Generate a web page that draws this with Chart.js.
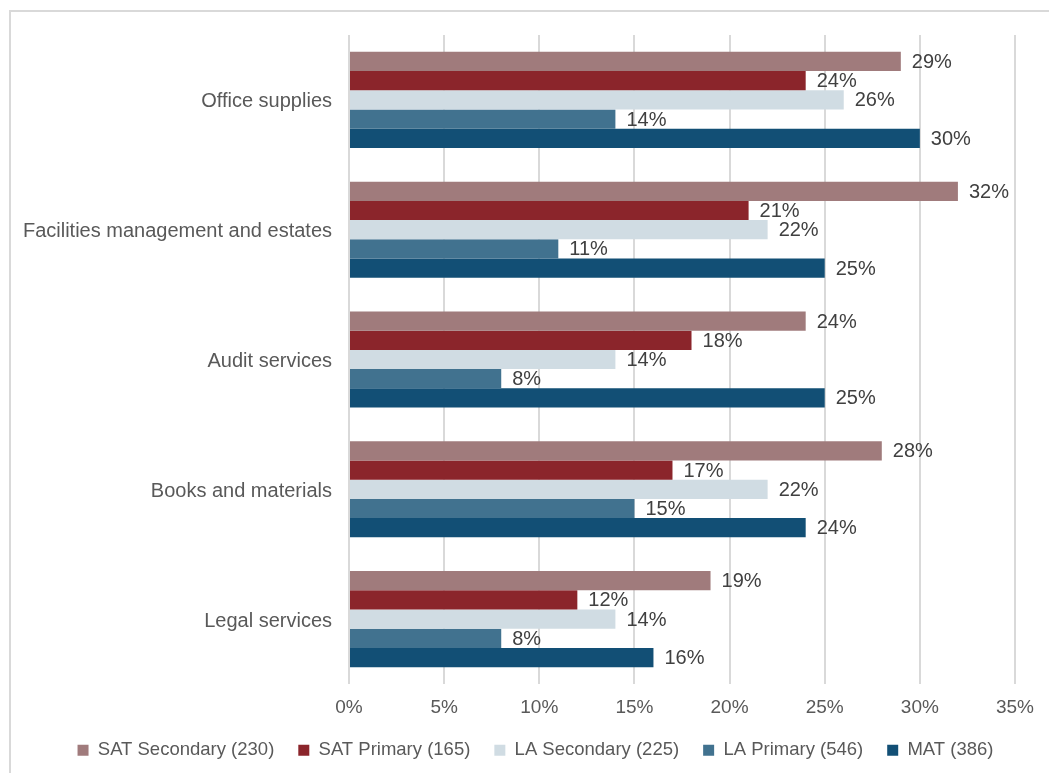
<!DOCTYPE html>
<html>
<head>
<meta charset="utf-8">
<script src="https://cdn.jsdelivr.net/npm/chart.js@4/dist/chart.umd.min.js"></script>
<style>
  html, body { margin: 0; padding: 0; background: #ffffff; overflow: hidden; }
  #wrap { position: relative; width: 1049px; height: 773px; }
  #frame {
    position: absolute; left: 9px; top: 10px; width: 1100px; height: 800px;
    border-top: 2px solid #d9d9d9; border-left: 2px solid #d9d9d9;
  }
  canvas { position: absolute; left: 0; top: 0; }
</style>
</head>
<body>
<div id="wrap">
  <div id="frame"></div>
  <canvas id="chart" width="1049" height="773"></canvas>
</div>
<script>
// Spend categories (top to bottom)
const categories = [
  'Office supplies',
  'Facilities management and estates',
  'Audit services',
  'Books and materials',
  'Legal services'
];

// Share of schools per group, in percent
const satSecondary = [29, 32, 24, 28, 19];
const satPrimary   = [24, 21, 18, 17, 12];
const laSecondary  = [26, 22, 14, 22, 14];
const laPrimary    = [14, 11, 8, 15, 8];
const mat          = [30, 25, 25, 24, 16];

const seriesNames = [
  'SAT Secondary (230)',
  'SAT Primary (165)',
  'LA Secondary (225)',
  'LA Primary (546)',
  'MAT (386)'
];
const seriesColors = ['#a07b7c', '#8b252b', '#d0dce3', '#41728f', '#124f75'];

const xTicks = [0, 5, 10, 15, 20, 25, 30, 35];

const FONT = '"Liberation Sans", Arial, sans-serif';

// Writes each bar's value just past its end
const valueLabels = {
  id: 'valueLabels',
  afterDatasetsDraw(chart) {
    const ctx = chart.ctx;
    ctx.save();
    ctx.font = '20px ' + FONT;
    ctx.fillStyle = '#404040';
    ctx.textAlign = 'left';
    ctx.textBaseline = 'middle';
    chart.data.datasets.forEach((ds, di) => {
      const meta = chart.getDatasetMeta(di);
      meta.data.forEach((bar, i) => {
        ctx.fillText(ds.data[i] + '%', bar.x + 11, bar.y + 1);
      });
    });
    ctx.restore();
  }
};

// Centres the legend row under the whole framed area rather than the canvas
const legendShift = {
  id: 'legendShift',
  afterLayout(chart) {
    const lg = chart.legend;
    if (lg) { lg.left += 28; lg.right += 28; }
  }
};

const allSeries = [satSecondary, satPrimary, laSecondary, laPrimary, mat];

new Chart(document.getElementById('chart'), {
  type: 'bar',
  data: {
    labels: categories,
    datasets: allSeries.map((vals, i) => ({
      label: seriesNames[i],
      data: vals,
      backgroundColor: seriesColors[i],
      borderWidth: 0,
      categoryPercentage: 0.74,
      barPercentage: 1.0
    }))
  },
  options: {
    indexAxis: 'y',
    responsive: false,
    animation: false,
    layout: { padding: { top: 35, right: 34, left: 0, bottom: 3.5 } },
    scales: {
      x: {
        min: 0,
        max: 35,
        afterBuildTicks(scale) {
          scale.ticks = xTicks.map(v => ({ value: v }));
        },
        afterFit(scale) { scale.height = 33; },
        grid: { color: '#d9d9d9', lineWidth: 2, drawTicks: false },
        border: { display: false },
        ticks: {
          padding: 14,
          color: '#595959',
          font: { family: FONT, size: 19, lineHeight: 1.0 },
          callback: v => v + '%'
        }
      },
      y: {
        afterFit(scale) { scale.width = 349; },
        grid: { display: false, drawTicks: false },
        border: { display: false },
        ticks: {
          padding: 17,
          labelOffset: 2,
          color: '#595959',
          font: { family: FONT, size: 20 }
        }
      }
    },
    plugins: {
      legend: {
        position: 'bottom',
        labels: {
          boxWidth: 11,
          boxHeight: 11,
          padding: 24,
          color: '#595959',
          font: { family: FONT, size: 18.5 }
        }
      },
      tooltip: { enabled: false }
    }
  },
  plugins: [valueLabels, legendShift]
});
</script>
</body>
</html>
